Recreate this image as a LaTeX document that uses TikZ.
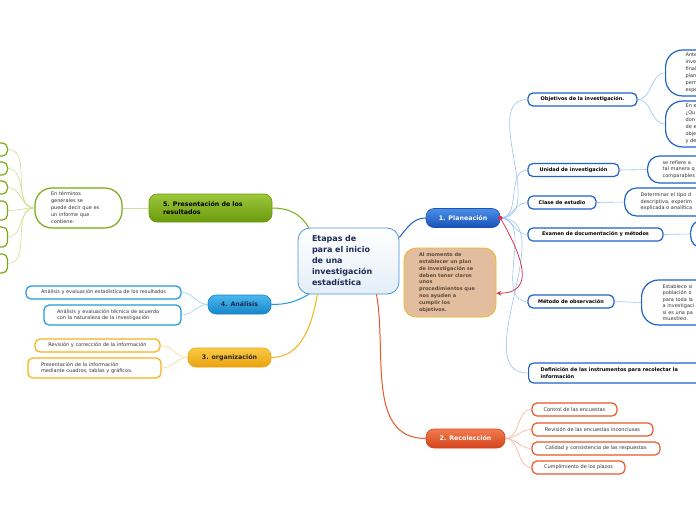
\documentclass[tikz,border=0pt]{standalone}
\usepackage{fontspec}
\setmainfont{DejaVu Sans}
\usetikzlibrary{arrows.meta}
\definecolor{PlanTop}{HTML}{4A8FE6}
\definecolor{PlanBot}{HTML}{1A52B8}
\definecolor{PlanLine}{HTML}{1F62C8}
\definecolor{PlanLink}{HTML}{9EC2F2}
\definecolor{RecoTop}{HTML}{F27C50}
\definecolor{RecoBot}{HTML}{D4431C}
\definecolor{RecoLine}{HTML}{E9572C}
\definecolor{RecoLink}{HTML}{F7B29A}
\definecolor{OrgTop}{HTML}{F9CB45}
\definecolor{OrgBot}{HTML}{EBA10E}
\definecolor{OrgLine}{HTML}{F5B21C}
\definecolor{OrgLink}{HTML}{FAD98C}
\definecolor{AnaTop}{HTML}{4DB8EE}
\definecolor{AnaBot}{HTML}{1686C8}
\definecolor{AnaLine}{HTML}{1E9BDD}
\definecolor{AnaLink}{HTML}{93D2F2}
\definecolor{PresTop}{HTML}{9CC83A}
\definecolor{PresBot}{HTML}{6A9A0C}
\definecolor{PresLine}{HTML}{7AAA12}
\definecolor{PresLink}{HTML}{C9E290}
\definecolor{NoteFill}{HTML}{E3BE9E}
\definecolor{NoteLine}{HTML}{F2B423}
\definecolor{NoteText}{HTML}{5C4A3A}
\definecolor{ArrowRed}{HTML}{D23A4C}
\definecolor{TitleText}{HTML}{1B2B55}
\definecolor{CoreLine}{HTML}{4A94D8}
\tikzset{mind layout/.style={%
    x=1pt,%
    y=-1pt,%
    every node/.style={%
        inner sep=0pt, font=\fontsize{5}{6}\selectfont, text=black!80
    }%
}}
\tikzset{topic/.style={%
    draw=#1Bot, line width=0.6pt, top color=#1Top, bottom color=#1Bot,%
    rounded corners=8pt, minimum height=19pt,%
    font=\fontsize{6.3}{7.5}\selectfont\bfseries
}}
\tikzset{leaf/.style={%
    draw=#1Line, fill=white, line width=1.2pt, rounded corners=5pt, minimum height=13pt
}}
\tikzset{bigleaf/.style={%
    draw=#1Line, fill=white, line width=1.2pt, rounded corners=17pt, anchor=west, align=left
}}
\tikzset{link/.style={draw=#1Link, line width=0.6pt}}
\tikzset{branch/.style={draw=#1Line, line width=1pt}}

\begin{document}
\begin{tikzpicture}[mind layout]
    \useasboundingbox (0,0) rectangle (696,520);
    \clip (0,0) rectangle (696,520);
    \fill[white] (0,0) rectangle (696,520);

    % centre
    \node (core) at (348.5,261) [draw=CoreLine, line width=0.8pt, rounded corners=12pt,
        top color=white, bottom color=black!5!CoreLine!15, minimum width=101pt, minimum height=66pt,
        text width=73pt, inner xsep=14pt, align=left, text=TitleText,
        font=\fontsize{8}{11}\selectfont\bfseries] {Etapas de\\para el inicio\\de una\\investigación\\estadística};

    % 1. Planeacion
    \node (plan) at (463,218) [topic=Plan, minimum width=74pt, text=white] {1. Planeación};
    \node (obj) at (582.5,99.5) [leaf=Plan, minimum width=109pt, font=\fontsize{5}{6}\selectfont\bfseries, text=black] {Objetivos de la investigación.};
    \node (uni) at (573.5,170) [leaf=Plan, minimum width=91pt, font=\fontsize{5}{6}\selectfont\bfseries, text=black] {Unidad de investigación};
    \node (cla) at (562,202.5) [leaf=Plan, minimum width=68pt, font=\fontsize{5}{6}\selectfont\bfseries, text=black] {Clase de estudio};
    \node (exa) at (595.5,234.5) [leaf=Plan, minimum width=135pt, font=\fontsize{5}{6}\selectfont\bfseries, text=black] {Examen de documentación y métodos};
    \node (met) at (571,301.5) [leaf=Plan, minimum width=86pt, font=\fontsize{5}{6}\selectfont\bfseries, text=black] {Método de observación};
    \node (def) at (528,373) [leaf=Plan, anchor=west, minimum height=20pt, text width=152pt, inner xsep=12pt, align=left,
        font=\fontsize{5}{6.5}\selectfont\bfseries, text=black] {Definición de las instrumentos para recolectar la\\información};

    \node (obja) at (665,73) [bigleaf=Plan, minimum height=46pt, text width=40pt, inner xsep=20pt, font=\fontsize{5}{7}\selectfont] {Ante\\inve\\final\\plan\\perm\\espe};
    \node (objb) at (665,124) [bigleaf=Plan, minimum height=46pt, text width=40pt, inner xsep=20pt, font=\fontsize{5}{7}\selectfont] {En e\\¿Qu\\don\\de e\\obje\\y de};
    \node (unic) at (647,169.5) [bigleaf=Plan, rounded corners=12pt, minimum height=27pt, text width=50pt, inner xsep=15pt, font=\fontsize{5}{6.5}\selectfont] {se refiere a\\tal manera q\\comparables};
    \node (clac) at (624,202) [bigleaf=Plan, rounded corners=12pt, minimum height=28pt, text width=70pt, inner xsep=16pt, font=\fontsize{5}{6.5}\selectfont] {Determinar el tipo d\\descriptiva, experim\\explicada o analítica};
    \node (exac) at (690,234) [bigleaf=Plan, rounded corners=12pt, minimum height=28pt, minimum width=40pt] {};
    \node (metc) at (641,302.5) [bigleaf=Plan, rounded corners=17pt, minimum height=45pt, text width=50pt, inner xsep=21pt, font=\fontsize{5}{6.5}\selectfont] {Establece si\\población o\\para toda la\\a investigaci\\si es una pa\\muestreo.};

    \foreach \n in {obj,uni,cla,exa,met,def} {
        \draw[link=Plan] (plan.east) to [out=0, in=180] (\n.west);
    }
    \draw[link=Plan] (obj.east) to [out=0, in=180] (obja.west);
    \draw[link=Plan] (obj.east) to [out=0, in=180] (objb.west);
    \draw[link=Plan] (uni.east) -- (unic.west);
    \draw[link=Plan] (cla.east) -- (clac.west);
    \draw[link=Plan] (exa.east) -- (exac.west);
    \draw[link=Plan] (met.east) -- (metc.west);

    % note
    \node (note) at (450,282.5) [draw=NoteLine, fill=NoteFill, line width=0.8pt, rounded corners=12pt,
        minimum width=92pt, minimum height=69pt, text width=62pt, inner xsep=15pt, align=left,
        text=NoteText, font=\fontsize{5}{6.8}\selectfont\bfseries] {Al momento de\\establecer un plan\\de investigación se\\deben tener claros\\unos\\procedimientos que\\nos ayuden a\\cumplir los\\objetivos.};
    \draw[ArrowRed, line width=0.8pt, -{Stealth[width=5pt,length=5pt]}] (plan.east) to [out=-60, in=0, looseness=1.4] (note.-13);
    \fill[ArrowRed] (plan.east) circle (2.2pt);

    % 2. Recoleccion
    \node (reco) at (465.5,438.5) [topic=Reco, minimum width=79pt, text=white] {2. Recolección};
    \node (rc1) at (574.5,409.5) [leaf=Reco, minimum width=85pt] {Control de las encuestas};
    \node (rc2) at (592.5,429.5) [leaf=Reco, minimum width=121pt] {Revisión de las encuestas inconclusas};
    \node (rc3) at (596,448.5) [leaf=Reco, minimum width=128pt] {Calidad y consistencia de las respuestas};
    \node (rc4) at (578.5,467.5) [leaf=Reco, minimum width=93pt] {Cumplimiento de los plazos};
    \foreach \n in {rc1,rc2,rc3,rc4} {
        \draw[link=Reco] (reco.east) to [out=0, in=180] (\n.west);
    }

    % 3. organizacion
    \node (org) at (229.5,357.5) [topic=Org, minimum width=83pt, text=black!85] {3. organización};
    \node (og1) at (97.5,345.5) [leaf=Org, minimum width=125pt] {Revisión y corrección de la información};
    \node (og2) at (94.5,368) [leaf=Org, minimum height=20pt, text width=107pt, inner xsep=13pt, align=left,
        font=\fontsize{5}{6.5}\selectfont] {Presentación de la información\\mediante cuadros, tablas y gráficos.};
    \foreach \n in {og1,og2} {
        \draw[link=Org] (org.west) to [out=180, in=0] (\n.east);
    }

    % 4. Analisis
    \node (ana) at (239.5,304.5) [topic=Ana, minimum width=63pt, text=TitleText] {4. Análisis};
    \node (an1) at (103.5,292.5) [leaf=Ana, minimum width=155pt] {Análisis y evaluación estadística de los resultados};
    \node (an2) at (112.5,315) [leaf=Ana, minimum height=20pt, text width=111pt, inner xsep=13pt, align=left,
        font=\fontsize{5}{6.5}\selectfont] {Análisis y evaluación técnica de acuerdo\\con la naturaleza de la investigación};
    \foreach \n in {an1,an2} {
        \draw[link=Ana] (ana.west) to [out=180, in=0] (\n.east);
    }

    % 5. Presentacion
    \node (pres) at (210.5,208) [topic=Pres, minimum width=123pt, minimum height=28pt, text width=95pt,
        inner xsep=14pt, align=left, text=black] {5. Presentación de los\\resultados};
    \node (inf) at (78.5,208) [leaf=Pres, rounded corners=17pt, minimum width=87pt, minimum height=40pt,
        text width=55pt, inner xsep=16pt, align=left, font=\fontsize{5}{7}\selectfont] {En términos\\generales se\\puede decir que es\\un informe que\\contiene:};
    \draw[link=Pres] (pres.west) -- (inf.east);
    \foreach \y/\h [count=\i] in {149.5/13, 168.5/13, 187.5/13, 210.5/19, 237/20, 263.5/19} {
        \node (g\i) at (8,\y) [leaf=Pres, anchor=east, minimum width=40pt, minimum height=\h pt] {};
        \draw[link=Pres] (inf.west) to [out=180, in=0] (g\i.east);
    }

    % branches from the centre
    \draw[branch=Plan] (core.25) to [out=50, in=180] (plan.west);
    \draw[branch=Reco] (core.-50) to [out=-80, in=180] (reco.west);
    \draw[branch=Org] (core.-133) to [out=-100, in=0] (org.east);
    \draw[branch=Ana] (core.-140) to [out=-150, in=0] (ana.east);
    \draw[branch=Pres] (pres.east) to [out=0, in=120] (core.140);
\end{tikzpicture}
\end{document}
